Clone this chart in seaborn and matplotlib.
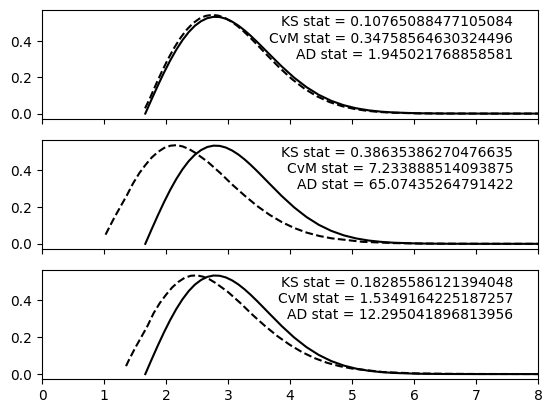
import numpy as np
import pandas as pd
import matplotlib
matplotlib.use("Agg")
import matplotlib.pyplot as plt
import seaborn as sns

# reference pdf (same in every panel)
x_true = [1.666, 1.766, 1.866, 1.966, 2.066, 2.166, 2.266, 2.366, 2.466, 2.566,
          2.666, 2.766, 2.866, 2.966, 3.066, 3.166, 3.266, 3.366, 3.466, 3.566,
          3.666, 3.866, 4.066, 4.266, 4.466, 4.666, 4.866, 5.066, 5.266, 5.466,
          5.666, 6.066, 6.466, 7.066, 8.0]
y_true = [0.0, 0.0775, 0.1531, 0.2253, 0.2923, 0.3528, 0.4056, 0.4500, 0.4852, 0.5104,
          0.5271, 0.5344, 0.5331, 0.5240, 0.5080, 0.4864, 0.4599, 0.4298, 0.3971, 0.3630,
          0.3285, 0.2606, 0.1987, 0.1460, 0.1033, 0.0705, 0.0464, 0.0295, 0.0181, 0.0108,
          0.0062, 0.0018, 0.0005, 0.00005, 0.0]

# fitted pdfs (dashed)
x_fit1 = [1.662, 1.735, 1.835, 1.935, 2.035, 2.135, 2.235, 2.335, 2.435, 2.535,
          2.635, 2.735, 2.835, 2.935, 3.035, 3.135, 3.235, 3.335, 3.435, 3.535,
          3.635, 3.835, 4.035, 4.235, 4.435, 4.635, 4.835, 5.035, 5.235, 5.435,
          5.635, 6.035, 6.435, 7.035, 8.0]
y_fit1 = [0.0291, 0.0804, 0.1588, 0.2335, 0.3027, 0.3649, 0.4188, 0.4637, 0.4991, 0.5237,
          0.5391, 0.5449, 0.5418, 0.5306, 0.5123, 0.4883, 0.4597, 0.4275, 0.3929, 0.3572,
          0.3213, 0.2518, 0.1895, 0.1371, 0.0955, 0.0640, 0.0414, 0.0258, 0.0156, 0.0090,
          0.0051, 0.0014, 0.0004, 0.00003, 0.0]

x_fit2 = [1.025, 1.07, 1.17, 1.27, 1.37, 1.47, 1.57, 1.67, 1.77, 1.87,
          1.97, 2.07, 2.17, 2.27, 2.37, 2.47, 2.67, 2.87, 3.07, 3.27,
          3.47, 3.67, 3.87, 4.07, 4.27, 4.47, 4.67, 5.17, 5.67, 6.17,
          6.67, 8.0]
y_fit2 = [0.05, 0.08, 0.145, 0.205, 0.265, 0.33, 0.385, 0.43, 0.47, 0.50,
          0.522, 0.534, 0.537, 0.530, 0.516, 0.496, 0.447, 0.387, 0.322, 0.262,
          0.206, 0.158, 0.118, 0.086, 0.061, 0.043, 0.030, 0.011, 0.004, 0.0015,
          0.0005, 0.0001]

x_fit3 = [1.355, 1.40, 1.50, 1.60, 1.70, 1.80, 1.90, 2.00, 2.10, 2.20,
          2.30, 2.40, 2.50, 2.60, 2.70, 2.80, 3.00, 3.20, 3.40, 3.60,
          3.80, 4.00, 4.20, 4.40, 4.60, 4.80, 5.00, 5.50, 6.00, 6.50,
          7.00, 8.0]
y_fit3 = [0.043, 0.075, 0.14, 0.20, 0.26, 0.33, 0.385, 0.43, 0.47, 0.50,
          0.522, 0.533, 0.535, 0.528, 0.514, 0.494, 0.445, 0.385, 0.32, 0.26,
          0.205, 0.158, 0.118, 0.086, 0.061, 0.043, 0.030, 0.011, 0.004, 0.0015,
          0.0005, 0.0001]

stats = [
    ("0.10765088477105084", "0.34758564630324496", "1.945021768858581"),
    ("0.38635386270476635", "7.233888514093875", "65.07435264791422"),
    ("0.18285586121394048", "1.5349164225187257", "12.295041896813956"),
]
fits = [(x_fit1, y_fit1), (x_fit2, y_fit2), (x_fit3, y_fit3)]

fig, axes = plt.subplots(3, 1, sharex=True, figsize=(5.52, 4.13), dpi=100)
fig.subplots_adjust(left=0.0761, right=0.9746, top=0.9758, bottom=0.0823, hspace=0.2)

for ax, (xf, yf), (ks, cvm, ad) in zip(axes, fits, stats):
    sns.lineplot(x=x_true, y=y_true, color="k", ax=ax, sort=False)
    sns.lineplot(x=xf, y=yf, color="k", linestyle="--", ax=ax, sort=False)
    ax.text(0.95, 0.95, "KS stat = %s\nCvM stat = %s\nAD stat = %s" % (ks, cvm, ad),
            transform=ax.transAxes, ha="right", va="top")
    ax.set_xlim(0, 8)

fig.savefig("out.png", dpi=100)
